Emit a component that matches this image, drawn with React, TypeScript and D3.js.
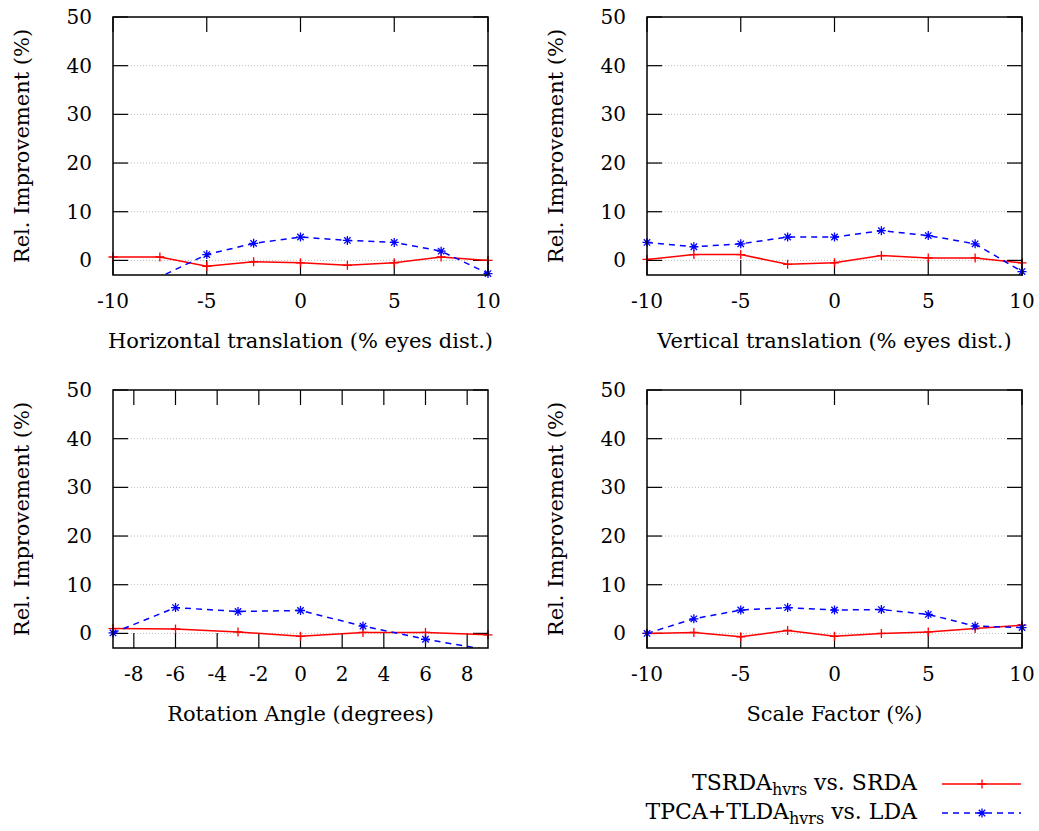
import React from 'react';
import * as d3 from 'd3';

// x positions of the measurements
const shiftSteps = [-10, -7.5, -5, -2.5, 0, 2.5, 5, 7.5, 10];
const angleSteps = [-9, -6, -3, 0, 3, 6, 9];

// relative improvement (%)
const horizTsrda = [0.7, 0.7, -1.2, -0.3, -0.5, -1.0, -0.5, 0.7, 0.0];
const horizTpca = [-6.0, -3.4, 1.2, 3.5, 4.8, 4.1, 3.7, 1.9, -2.7];
const vertTsrda = [0.2, 1.2, 1.2, -0.8, -0.5, 1.0, 0.5, 0.5, -0.5];
const vertTpca = [3.7, 2.8, 3.4, 4.8, 4.8, 6.1, 5.1, 3.4, -2.3];
const rotTsrda = [1.0, 0.9, 0.3, -0.6, 0.2, 0.2, -0.3];
const rotTpca = [0.1, 5.3, 4.5, 4.7, 1.5, -1.2, -3.4];
const scaleTsrda = [0.0, 0.2, -0.7, 0.6, -0.6, 0.0, 0.3, 1.0, 1.7];
const scaleTpca = [0.0, 3.0, 4.8, 5.3, 4.8, 4.9, 3.9, 1.5, 1.2];

const yTicks = [0, 10, 20, 30, 40, 50];
const shiftTicks = [-10, -5, 0, 5, 10];
const angleTicks = [-8, -6, -4, -2, 0, 2, 4, 6, 8];

const FONT = '"DejaVu Serif", serif';
const RED = '#ff0000';
const BLUE = '#0000ff';
const TICK = 15;

const plusPath = 'M-4.5,0H4.5M0,-4.5V4.5';
const starPath = 'M-4.5,0H4.5M0,-4.5V4.5M-3.2,-3.2L3.2,3.2M-3.2,3.2L3.2,-3.2';

type PanelProps = {
  id: string;
  left: number;
  top: number;
  xs: number[];
  red: number[];
  blue: number[];
  xDomain: [number, number];
  xTicks: number[];
  xLabel: string;
};

function Panel({ id, left, top, xs, red, blue, xDomain, xTicks, xLabel }: PanelProps) {
  const w = 375;
  const h = 258;
  const x = d3.scaleLinear().domain(xDomain).range([left, left + w]);
  const y = d3.scaleLinear().domain([-3, 50]).range([top + h, top]);

  const line = d3.line<number>()
    .x((d, i) => x(xs[i]))
    .y(d => y(d));

  const inRange = (v: number) => v >= -3 && v <= 50;

  return (
    <g>
      <defs>
        <clipPath id={'clip-' + id}>
          <rect x={left} y={top} width={w} height={h} />
        </clipPath>
      </defs>

      {/* grid */}
      {yTicks.filter(t => t < 50).map(t => (
        <line key={'g' + t} x1={left} x2={left + w} y1={y(t)} y2={y(t)}
          stroke="#bbb" strokeWidth={1} strokeDasharray="1,2" />
      ))}

      {/* ticks */}
      {yTicks.map(t => (
        <g key={'yt' + t}>
          <line x1={left} x2={left + TICK} y1={y(t)} y2={y(t)} stroke="#000" strokeWidth={1.2} />
          <line x1={left + w - TICK} x2={left + w} y1={y(t)} y2={y(t)} stroke="#000" strokeWidth={1.2} />
          <text x={left - 21} y={y(t)} dy="0.35em" textAnchor="end" fontFamily={FONT} fontSize={20}>{t}</text>
        </g>
      ))}
      {xTicks.map(t => (
        <g key={'xt' + t}>
          <line x1={x(t)} x2={x(t)} y1={top + h} y2={top + h - TICK} stroke="#000" strokeWidth={1.2} />
          <line x1={x(t)} x2={x(t)} y1={top} y2={top + TICK} stroke="#000" strokeWidth={1.2} />
          <text x={x(t)} y={top + h + 33} textAnchor="middle" fontFamily={FONT} fontSize={20}>{t}</text>
        </g>
      ))}

      {/* series */}
      <g clipPath={`url(#clip-${id})`}>
        <path d={line(red) || ''} fill="none" stroke={RED} strokeWidth={1.5} />
        <path d={line(blue) || ''} fill="none" stroke={BLUE} strokeWidth={1.5} strokeDasharray="6,5" />
      </g>
      {red.map((v, i) => inRange(v) && (
        <path key={'r' + i} d={plusPath} transform={`translate(${x(xs[i])},${y(v)})`}
          stroke={RED} strokeWidth={1.3} fill="none" />
      ))}
      {blue.map((v, i) => inRange(v) && (
        <path key={'b' + i} d={starPath} transform={`translate(${x(xs[i])},${y(v)})`}
          stroke={BLUE} strokeWidth={1.3} fill="none" />
      ))}

      {/* frame */}
      <rect x={left} y={top} width={w} height={h} fill="none" stroke="#000" strokeWidth={1.5} />

      {/* axis titles */}
      <text x={left + w / 2} y={top + h + 73} textAnchor="middle" fontFamily={FONT} fontSize={21}>{xLabel}</text>
      <text transform={`translate(${left - 91},${top + h / 2}) rotate(-90)`} dy="0.35em"
        textAnchor="middle" fontFamily={FONT} fontSize={21}>Rel. Improvement (%)</text>
    </g>
  );
}

export default function App() {
  return (
    <svg width={1039} height={831} style={{ display: 'block', position: 'absolute', left: 0, top: 0 }}>
      <rect width={1039} height={831} fill="#fff" />
      <Panel id="h" left={113} top={17} xs={shiftSteps} red={horizTsrda} blue={horizTpca}
        xDomain={[-10, 10]} xTicks={shiftTicks} xLabel="Horizontal translation (% eyes dist.)" />
      <Panel id="v" left={647} top={17} xs={shiftSteps} red={vertTsrda} blue={vertTpca}
        xDomain={[-10, 10]} xTicks={shiftTicks} xLabel="Vertical translation (% eyes dist.)" />
      <Panel id="r" left={113} top={390} xs={angleSteps} red={rotTsrda} blue={rotTpca}
        xDomain={[-9, 9]} xTicks={angleTicks} xLabel="Rotation Angle (degrees)" />
      <Panel id="s" left={647} top={390} xs={shiftSteps} red={scaleTsrda} blue={scaleTpca}
        xDomain={[-10, 10]} xTicks={shiftTicks} xLabel="Scale Factor (%)" />

      {/* legend */}
      <g fontFamily={FONT} fontSize={22}>
        <text x={917} y={790} textAnchor="end">
          TSRDA<tspan fontSize={16} dy={5}>hvrs</tspan><tspan dy={-5}> vs. SRDA</tspan>
        </text>
        <line x1={942} x2={1021} y1={784} y2={784} stroke={RED} strokeWidth={1.5} />
        <path d={plusPath} transform="translate(982,784)" stroke={RED} strokeWidth={1.3} fill="none" />

        <text x={917} y={819} textAnchor="end">
          TPCA+TLDA<tspan fontSize={16} dy={5}>hvrs</tspan><tspan dy={-5}> vs. LDA</tspan>
        </text>
        <line x1={942} x2={1021} y1={813} y2={813} stroke={BLUE} strokeWidth={1.5} strokeDasharray="6,5" />
        <path d={starPath} transform="translate(982,813)" stroke={BLUE} strokeWidth={1.3} fill="none" />
      </g>
    </svg>
  );
}
